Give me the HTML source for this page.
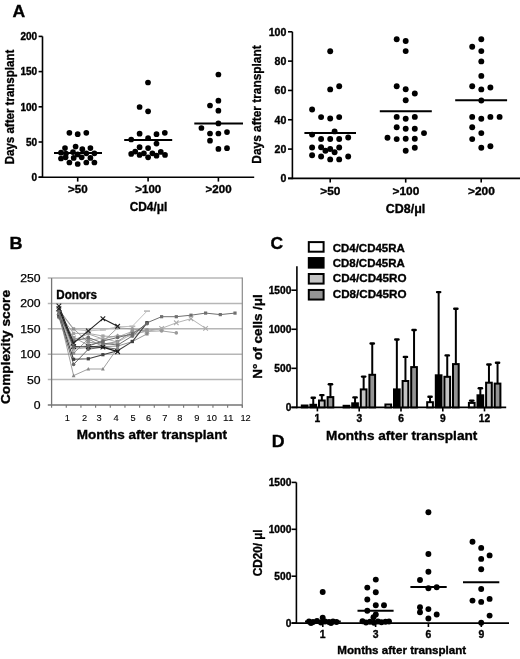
<!DOCTYPE html>
<html><head><meta charset="utf-8"><style>
html,body{margin:0;padding:0;background:#fff;overflow:hidden;}
svg{display:block;will-change:transform;}
text{font-family:"Liberation Sans", sans-serif;fill:#000;}
</style></head><body>
<svg width="520" height="659" viewBox="0 0 520 659">
<rect width="520" height="659" fill="#fff"/>
<text x="12.41" y="16.70" font-size="17.37" font-weight="bold" stroke="#000" stroke-width="0.35" textLength="12.70" lengthAdjust="spacingAndGlyphs">A</text>
<line x1="42.50" y1="36.40" x2="42.50" y2="178.00" stroke="#000" stroke-width="1.6" />
<line x1="38.60" y1="177.20" x2="42.50" y2="177.20" stroke="#000" stroke-width="1.6" />
<text x="31.55" y="180.90" font-size="10.00" font-weight="bold" stroke="#000" stroke-width="0.35" textLength="5.56" lengthAdjust="spacingAndGlyphs">0</text>
<line x1="38.60" y1="142.00" x2="42.50" y2="142.00" stroke="#000" stroke-width="1.6" />
<text x="25.99" y="145.70" font-size="10.00" font-weight="bold" stroke="#000" stroke-width="0.35" textLength="11.12" lengthAdjust="spacingAndGlyphs">50</text>
<line x1="38.60" y1="106.80" x2="42.50" y2="106.80" stroke="#000" stroke-width="1.6" />
<text x="20.43" y="110.50" font-size="10.00" font-weight="bold" stroke="#000" stroke-width="0.35" textLength="16.68" lengthAdjust="spacingAndGlyphs">100</text>
<line x1="38.60" y1="71.60" x2="42.50" y2="71.60" stroke="#000" stroke-width="1.6" />
<text x="20.43" y="75.30" font-size="10.00" font-weight="bold" stroke="#000" stroke-width="0.35" textLength="16.68" lengthAdjust="spacingAndGlyphs">150</text>
<line x1="38.60" y1="36.40" x2="42.50" y2="36.40" stroke="#000" stroke-width="1.6" />
<text x="20.43" y="40.10" font-size="10.00" font-weight="bold" stroke="#000" stroke-width="0.35" textLength="16.68" lengthAdjust="spacingAndGlyphs">200</text>
<line x1="38.60" y1="177.20" x2="254.20" y2="177.20" stroke="#000" stroke-width="1.6" />
<line x1="77.70" y1="177.20" x2="77.70" y2="181.60" stroke="#000" stroke-width="1.6" />
<text x="68.10" y="192.60" font-size="11.10" font-weight="bold" stroke="#000" stroke-width="0.35" textLength="19.58" lengthAdjust="spacingAndGlyphs">&gt;50</text>
<line x1="148.10" y1="177.20" x2="148.10" y2="181.60" stroke="#000" stroke-width="1.6" />
<text x="135.29" y="192.60" font-size="11.10" font-weight="bold" stroke="#000" stroke-width="0.35" textLength="26.00" lengthAdjust="spacingAndGlyphs">&gt;100</text>
<line x1="218.40" y1="177.20" x2="218.40" y2="181.60" stroke="#000" stroke-width="1.6" />
<text x="205.59" y="192.60" font-size="11.10" font-weight="bold" stroke="#000" stroke-width="0.35" textLength="26.00" lengthAdjust="spacingAndGlyphs">&gt;200</text>
<text x="129.66" y="210.80" font-size="12.14" font-weight="bold" stroke="#000" stroke-width="0.35" textLength="37.63" lengthAdjust="spacingAndGlyphs">CD4/μl</text>
<text x="14.20" y="164.32" font-size="12.72" font-weight="bold" stroke="#000" stroke-width="0.35" textLength="114.61" lengthAdjust="spacingAndGlyphs" transform="rotate(-90 14.20 164.32)">Days after transplant</text>
<circle cx="69.40" cy="132.80" r="2.85" fill="#000"/>
<circle cx="77.70" cy="134.20" r="2.85" fill="#000"/>
<circle cx="86.30" cy="132.80" r="2.85" fill="#000"/>
<circle cx="65.00" cy="148.10" r="2.85" fill="#000"/>
<circle cx="75.60" cy="146.60" r="2.85" fill="#000"/>
<circle cx="82.30" cy="149.20" r="2.85" fill="#000"/>
<circle cx="90.40" cy="148.10" r="2.85" fill="#000"/>
<circle cx="61.00" cy="152.70" r="2.85" fill="#000"/>
<circle cx="73.00" cy="152.10" r="2.85" fill="#000"/>
<circle cx="77.70" cy="154.40" r="2.85" fill="#000"/>
<circle cx="86.30" cy="153.30" r="2.85" fill="#000"/>
<circle cx="94.40" cy="153.30" r="2.85" fill="#000"/>
<circle cx="66.00" cy="153.50" r="2.85" fill="#000"/>
<circle cx="61.00" cy="158.50" r="2.85" fill="#000"/>
<circle cx="65.60" cy="157.30" r="2.85" fill="#000"/>
<circle cx="73.70" cy="157.90" r="2.85" fill="#000"/>
<circle cx="81.70" cy="157.30" r="2.85" fill="#000"/>
<circle cx="90.40" cy="157.90" r="2.85" fill="#000"/>
<circle cx="69.40" cy="162.50" r="2.85" fill="#000"/>
<circle cx="77.70" cy="164.00" r="2.85" fill="#000"/>
<circle cx="86.30" cy="162.50" r="2.85" fill="#000"/>
<circle cx="94.40" cy="162.50" r="2.85" fill="#000"/>
<circle cx="148.00" cy="82.50" r="2.85" fill="#000"/>
<circle cx="139.60" cy="107.00" r="2.85" fill="#000"/>
<circle cx="148.10" cy="111.30" r="2.85" fill="#000"/>
<circle cx="139.60" cy="133.70" r="2.85" fill="#000"/>
<circle cx="156.50" cy="134.20" r="2.85" fill="#000"/>
<circle cx="164.80" cy="132.80" r="2.85" fill="#000"/>
<circle cx="131.20" cy="139.50" r="2.85" fill="#000"/>
<circle cx="148.10" cy="138.20" r="2.85" fill="#000"/>
<circle cx="156.50" cy="143.60" r="2.85" fill="#000"/>
<circle cx="139.60" cy="147.20" r="2.85" fill="#000"/>
<circle cx="148.10" cy="148.10" r="2.85" fill="#000"/>
<circle cx="131.20" cy="153.90" r="2.85" fill="#000"/>
<circle cx="135.20" cy="151.60" r="2.85" fill="#000"/>
<circle cx="139.60" cy="154.90" r="2.85" fill="#000"/>
<circle cx="143.90" cy="153.30" r="2.85" fill="#000"/>
<circle cx="148.10" cy="157.30" r="2.85" fill="#000"/>
<circle cx="152.40" cy="153.30" r="2.85" fill="#000"/>
<circle cx="156.50" cy="155.70" r="2.85" fill="#000"/>
<circle cx="160.80" cy="151.90" r="2.85" fill="#000"/>
<circle cx="165.00" cy="154.90" r="2.85" fill="#000"/>
<circle cx="218.40" cy="74.50" r="2.85" fill="#000"/>
<circle cx="218.40" cy="100.70" r="2.85" fill="#000"/>
<circle cx="210.00" cy="105.50" r="2.85" fill="#000"/>
<circle cx="218.40" cy="110.70" r="2.85" fill="#000"/>
<circle cx="218.40" cy="123.40" r="2.85" fill="#000"/>
<circle cx="201.40" cy="128.00" r="2.85" fill="#000"/>
<circle cx="210.00" cy="133.50" r="2.85" fill="#000"/>
<circle cx="218.40" cy="133.50" r="2.85" fill="#000"/>
<circle cx="227.00" cy="132.10" r="2.85" fill="#000"/>
<circle cx="210.00" cy="140.70" r="2.85" fill="#000"/>
<circle cx="218.40" cy="148.90" r="2.85" fill="#000"/>
<circle cx="227.00" cy="148.20" r="2.85" fill="#000"/>
<line x1="54.00" y1="152.90" x2="102.00" y2="152.90" stroke="#000" stroke-width="2" />
<line x1="124.20" y1="140.10" x2="172.20" y2="140.10" stroke="#000" stroke-width="2" />
<line x1="194.30" y1="123.60" x2="243.00" y2="123.60" stroke="#000" stroke-width="2" />
<line x1="292.40" y1="31.80" x2="292.40" y2="179.20" stroke="#000" stroke-width="1.6" />
<line x1="288.00" y1="178.40" x2="292.40" y2="178.40" stroke="#000" stroke-width="1.6" />
<text x="280.44" y="182.20" font-size="10.60" font-weight="bold" stroke="#000" stroke-width="0.35" textLength="5.90" lengthAdjust="spacingAndGlyphs">0</text>
<line x1="288.00" y1="149.08" x2="292.40" y2="149.08" stroke="#000" stroke-width="1.6" />
<text x="274.54" y="152.88" font-size="10.60" font-weight="bold" stroke="#000" stroke-width="0.35" textLength="11.79" lengthAdjust="spacingAndGlyphs">20</text>
<line x1="288.00" y1="119.76" x2="292.40" y2="119.76" stroke="#000" stroke-width="1.6" />
<text x="274.54" y="123.56" font-size="10.60" font-weight="bold" stroke="#000" stroke-width="0.35" textLength="11.79" lengthAdjust="spacingAndGlyphs">40</text>
<line x1="288.00" y1="90.44" x2="292.40" y2="90.44" stroke="#000" stroke-width="1.6" />
<text x="274.54" y="94.24" font-size="10.60" font-weight="bold" stroke="#000" stroke-width="0.35" textLength="11.79" lengthAdjust="spacingAndGlyphs">60</text>
<line x1="288.00" y1="61.12" x2="292.40" y2="61.12" stroke="#000" stroke-width="1.6" />
<text x="274.54" y="64.92" font-size="10.60" font-weight="bold" stroke="#000" stroke-width="0.35" textLength="11.79" lengthAdjust="spacingAndGlyphs">80</text>
<line x1="288.00" y1="31.80" x2="292.40" y2="31.80" stroke="#000" stroke-width="1.6" />
<text x="268.65" y="35.60" font-size="10.60" font-weight="bold" stroke="#000" stroke-width="0.35" textLength="17.69" lengthAdjust="spacingAndGlyphs">100</text>
<line x1="288.00" y1="178.40" x2="520.00" y2="178.40" stroke="#000" stroke-width="1.6" />
<line x1="330.20" y1="178.40" x2="330.20" y2="182.60" stroke="#000" stroke-width="1.6" />
<text x="320.32" y="194.60" font-size="11.00" font-weight="bold" stroke="#000" stroke-width="0.35" textLength="20.15" lengthAdjust="spacingAndGlyphs">&gt;50</text>
<line x1="405.70" y1="178.40" x2="405.70" y2="182.60" stroke="#000" stroke-width="1.6" />
<text x="392.51" y="194.60" font-size="11.00" font-weight="bold" stroke="#000" stroke-width="0.35" textLength="26.76" lengthAdjust="spacingAndGlyphs">&gt;100</text>
<line x1="481.20" y1="178.40" x2="481.20" y2="182.60" stroke="#000" stroke-width="1.6" />
<text x="468.01" y="194.60" font-size="11.00" font-weight="bold" stroke="#000" stroke-width="0.35" textLength="26.76" lengthAdjust="spacingAndGlyphs">&gt;200</text>
<text x="385.84" y="213.10" font-size="12.14" font-weight="bold" stroke="#000" stroke-width="0.35" textLength="39.49" lengthAdjust="spacingAndGlyphs">CD8/μl</text>
<text x="261.30" y="163.65" font-size="13.30" font-weight="bold" stroke="#000" stroke-width="0.35" textLength="118.34" lengthAdjust="spacingAndGlyphs" transform="rotate(-90 261.30 163.65)">Days after transplant</text>
<circle cx="330.20" cy="51.20" r="2.95" fill="#000"/>
<circle cx="339.20" cy="86.20" r="2.95" fill="#000"/>
<circle cx="330.20" cy="89.40" r="2.95" fill="#000"/>
<circle cx="312.10" cy="109.50" r="2.95" fill="#000"/>
<circle cx="321.10" cy="117.10" r="2.95" fill="#000"/>
<circle cx="330.20" cy="118.50" r="2.95" fill="#000"/>
<circle cx="339.20" cy="117.10" r="2.95" fill="#000"/>
<circle cx="334.60" cy="131.40" r="2.95" fill="#000"/>
<circle cx="312.10" cy="134.60" r="2.95" fill="#000"/>
<circle cx="321.10" cy="139.00" r="2.95" fill="#000"/>
<circle cx="330.20" cy="139.00" r="2.95" fill="#000"/>
<circle cx="339.20" cy="139.00" r="2.95" fill="#000"/>
<circle cx="348.20" cy="137.50" r="2.95" fill="#000"/>
<circle cx="312.10" cy="147.50" r="2.95" fill="#000"/>
<circle cx="321.10" cy="147.30" r="2.95" fill="#000"/>
<circle cx="325.40" cy="150.80" r="2.95" fill="#000"/>
<circle cx="330.20" cy="149.00" r="2.95" fill="#000"/>
<circle cx="334.60" cy="152.20" r="2.95" fill="#000"/>
<circle cx="339.20" cy="147.50" r="2.95" fill="#000"/>
<circle cx="312.10" cy="155.20" r="2.95" fill="#000"/>
<circle cx="321.10" cy="156.50" r="2.95" fill="#000"/>
<circle cx="330.20" cy="159.40" r="2.95" fill="#000"/>
<circle cx="339.20" cy="159.40" r="2.95" fill="#000"/>
<circle cx="348.20" cy="156.50" r="2.95" fill="#000"/>
<circle cx="396.70" cy="39.20" r="2.95" fill="#000"/>
<circle cx="405.70" cy="41.00" r="2.95" fill="#000"/>
<circle cx="405.70" cy="51.10" r="2.95" fill="#000"/>
<circle cx="396.70" cy="86.20" r="2.95" fill="#000"/>
<circle cx="405.70" cy="89.20" r="2.95" fill="#000"/>
<circle cx="414.80" cy="93.50" r="2.95" fill="#000"/>
<circle cx="405.70" cy="100.20" r="2.95" fill="#000"/>
<circle cx="396.70" cy="116.90" r="2.95" fill="#000"/>
<circle cx="405.70" cy="118.70" r="2.95" fill="#000"/>
<circle cx="414.80" cy="116.90" r="2.95" fill="#000"/>
<circle cx="396.70" cy="127.30" r="2.95" fill="#000"/>
<circle cx="405.70" cy="128.80" r="2.95" fill="#000"/>
<circle cx="414.80" cy="128.80" r="2.95" fill="#000"/>
<circle cx="424.00" cy="133.10" r="2.95" fill="#000"/>
<circle cx="387.50" cy="137.70" r="2.95" fill="#000"/>
<circle cx="396.70" cy="139.10" r="2.95" fill="#000"/>
<circle cx="405.70" cy="138.80" r="2.95" fill="#000"/>
<circle cx="414.80" cy="138.80" r="2.95" fill="#000"/>
<circle cx="414.80" cy="147.80" r="2.95" fill="#000"/>
<circle cx="405.70" cy="150.70" r="2.95" fill="#000"/>
<circle cx="481.30" cy="39.20" r="2.95" fill="#000"/>
<circle cx="472.20" cy="46.70" r="2.95" fill="#000"/>
<circle cx="481.30" cy="51.10" r="2.95" fill="#000"/>
<circle cx="481.30" cy="61.40" r="2.95" fill="#000"/>
<circle cx="481.30" cy="75.90" r="2.95" fill="#000"/>
<circle cx="472.20" cy="86.30" r="2.95" fill="#000"/>
<circle cx="481.30" cy="89.40" r="2.95" fill="#000"/>
<circle cx="490.40" cy="87.50" r="2.95" fill="#000"/>
<circle cx="481.30" cy="100.50" r="2.95" fill="#000"/>
<circle cx="472.20" cy="116.90" r="2.95" fill="#000"/>
<circle cx="481.30" cy="118.70" r="2.95" fill="#000"/>
<circle cx="490.40" cy="116.90" r="2.95" fill="#000"/>
<circle cx="499.60" cy="116.90" r="2.95" fill="#000"/>
<circle cx="472.20" cy="127.30" r="2.95" fill="#000"/>
<circle cx="481.30" cy="133.10" r="2.95" fill="#000"/>
<circle cx="472.20" cy="139.10" r="2.95" fill="#000"/>
<circle cx="481.30" cy="147.80" r="2.95" fill="#000"/>
<circle cx="490.40" cy="146.30" r="2.95" fill="#000"/>
<line x1="304.40" y1="132.90" x2="356.00" y2="132.90" stroke="#000" stroke-width="2" />
<line x1="379.80" y1="111.20" x2="431.80" y2="111.20" stroke="#000" stroke-width="2" />
<line x1="455.20" y1="100.20" x2="507.10" y2="100.20" stroke="#000" stroke-width="2" />
<text x="9.44" y="248.80" font-size="16.06" font-weight="bold" stroke="#000" stroke-width="0.35" textLength="13.03" lengthAdjust="spacingAndGlyphs">B</text>
<line x1="47.80" y1="379.62" x2="242.30" y2="379.62" stroke="#b6b6b6" stroke-width="1.5" />
<line x1="47.80" y1="354.24" x2="242.30" y2="354.24" stroke="#b6b6b6" stroke-width="1.5" />
<line x1="47.80" y1="328.86" x2="242.30" y2="328.86" stroke="#b6b6b6" stroke-width="1.5" />
<line x1="47.80" y1="303.48" x2="242.30" y2="303.48" stroke="#b6b6b6" stroke-width="1.5" />
<line x1="47.80" y1="278.10" x2="242.30" y2="278.10" stroke="#b6b6b6" stroke-width="1.5" />
<polyline points="58.9,311.1 73.6,329.4 88.3,330.9 102.9,329.9 117.6,326.8 132.3,326.3 147.0,311.1" fill="none" stroke="#b8b8b8" stroke-width="0.9" stroke-linejoin="round"/>
<rect x="55.9" y="310.3" width="6" height="1.6" fill="#b8b8b8"/>
<rect x="70.6" y="328.6" width="6" height="1.6" fill="#b8b8b8"/>
<rect x="85.3" y="330.1" width="6" height="1.6" fill="#b8b8b8"/>
<rect x="99.9" y="329.1" width="6" height="1.6" fill="#b8b8b8"/>
<rect x="114.6" y="326.0" width="6" height="1.6" fill="#b8b8b8"/>
<rect x="129.3" y="325.5" width="6" height="1.6" fill="#b8b8b8"/>
<rect x="144.0" y="310.3" width="6" height="1.6" fill="#b8b8b8"/>
<polyline points="58.9,313.6 73.6,333.4 88.3,333.4 102.9,336.0 117.6,337.0 132.3,331.4" fill="none" stroke="#a4a4a4" stroke-width="0.9" stroke-linejoin="round"/>
<rect x="57.3" y="312.0" width="3.2" height="3.2" fill="#a4a4a4"/>
<rect x="72.0" y="331.8" width="3.2" height="3.2" fill="#a4a4a4"/>
<rect x="86.7" y="331.8" width="3.2" height="3.2" fill="#a4a4a4"/>
<rect x="101.3" y="334.4" width="3.2" height="3.2" fill="#a4a4a4"/>
<rect x="116.0" y="335.4" width="3.2" height="3.2" fill="#a4a4a4"/>
<rect x="130.7" y="329.8" width="3.2" height="3.2" fill="#a4a4a4"/>
<polyline points="58.9,315.7 73.6,340.0 88.3,333.9 102.9,339.0 117.6,335.5 132.3,336.0 147.0,329.9 161.6,328.9" fill="none" stroke="#9c9c9c" stroke-width="0.9" stroke-linejoin="round"/>
<polygon points="58.9,313.7 60.9,315.7 58.9,317.7 56.9,315.7" fill="#9c9c9c"/>
<polygon points="73.6,338.0 75.6,340.0 73.6,342.0 71.6,340.0" fill="#9c9c9c"/>
<polygon points="88.3,331.9 90.3,333.9 88.3,335.9 86.3,333.9" fill="#9c9c9c"/>
<polygon points="102.9,337.0 104.9,339.0 102.9,341.0 100.9,339.0" fill="#9c9c9c"/>
<polygon points="117.6,333.5 119.6,335.5 117.6,337.5 115.6,335.5" fill="#9c9c9c"/>
<polygon points="132.3,334.0 134.3,336.0 132.3,338.0 130.3,336.0" fill="#9c9c9c"/>
<polygon points="147.0,327.9 149.0,329.9 147.0,331.9 145.0,329.9" fill="#9c9c9c"/>
<polygon points="161.6,326.9 163.6,328.9 161.6,330.9 159.6,328.9" fill="#9c9c9c"/>
<polyline points="58.9,312.6 73.6,338.0 88.3,340.5 102.9,338.0 117.6,342.1 132.3,333.9 147.0,331.4 161.6,328.4 176.3,322.8 191.0,318.7 205.6,328.4" fill="none" stroke="#acacac" stroke-width="0.9" stroke-linejoin="round"/>
<path d="M56.6,310.3L61.2,314.9M56.6,314.9L61.2,310.3" stroke="#acacac" stroke-width="1.1" fill="none"/>
<path d="M71.3,335.7L75.9,340.3M71.3,340.3L75.9,335.7" stroke="#acacac" stroke-width="1.1" fill="none"/>
<path d="M86.0,338.2L90.6,342.8M86.0,342.8L90.6,338.2" stroke="#acacac" stroke-width="1.1" fill="none"/>
<path d="M100.6,335.7L105.2,340.3M100.6,340.3L105.2,335.7" stroke="#acacac" stroke-width="1.1" fill="none"/>
<path d="M115.3,339.8L119.9,344.4M115.3,344.4L119.9,339.8" stroke="#acacac" stroke-width="1.1" fill="none"/>
<path d="M130.0,331.6L134.6,336.2M130.0,336.2L134.6,331.6" stroke="#acacac" stroke-width="1.1" fill="none"/>
<path d="M144.7,329.1L149.3,333.7M144.7,333.7L149.3,329.1" stroke="#acacac" stroke-width="1.1" fill="none"/>
<path d="M159.3,326.1L163.9,330.7M159.3,330.7L163.9,326.1" stroke="#acacac" stroke-width="1.1" fill="none"/>
<path d="M174.0,320.5L178.6,325.1M174.0,325.1L178.6,320.5" stroke="#acacac" stroke-width="1.1" fill="none"/>
<path d="M188.7,316.4L193.3,321.0M188.7,321.0L193.3,316.4" stroke="#acacac" stroke-width="1.1" fill="none"/>
<path d="M203.3,326.1L207.9,330.7M203.3,330.7L207.9,326.1" stroke="#acacac" stroke-width="1.1" fill="none"/>
<polyline points="58.9,309.6 73.6,328.9 88.3,342.1 102.9,344.1 117.6,341.6 132.3,331.4 147.0,329.9" fill="none" stroke="#909090" stroke-width="0.9" stroke-linejoin="round"/>
<rect x="57.3" y="308.0" width="3.2" height="3.2" fill="#909090"/>
<rect x="72.0" y="327.3" width="3.2" height="3.2" fill="#909090"/>
<rect x="86.7" y="340.5" width="3.2" height="3.2" fill="#909090"/>
<rect x="101.3" y="342.5" width="3.2" height="3.2" fill="#909090"/>
<rect x="116.0" y="339.9" width="3.2" height="3.2" fill="#909090"/>
<rect x="130.7" y="329.8" width="3.2" height="3.2" fill="#909090"/>
<rect x="145.4" y="328.3" width="3.2" height="3.2" fill="#909090"/>
<polyline points="58.9,317.7 73.6,337.5 88.3,345.1 102.9,341.6 117.6,327.8 132.3,328.9 147.0,331.4 161.6,330.9 176.3,332.9" fill="none" stroke="#999999" stroke-width="0.9" stroke-linejoin="round"/>
<circle cx="58.9" cy="317.7" r="1.8" fill="#999999"/>
<circle cx="73.6" cy="337.5" r="1.8" fill="#999999"/>
<circle cx="88.3" cy="345.1" r="1.8" fill="#999999"/>
<circle cx="102.9" cy="341.6" r="1.8" fill="#999999"/>
<circle cx="117.6" cy="327.8" r="1.8" fill="#999999"/>
<circle cx="132.3" cy="328.9" r="1.8" fill="#999999"/>
<circle cx="147.0" cy="331.4" r="1.8" fill="#999999"/>
<circle cx="161.6" cy="330.9" r="1.8" fill="#999999"/>
<circle cx="176.3" cy="332.9" r="1.8" fill="#999999"/>
<polyline points="58.9,314.6 73.6,349.2 88.3,347.6 102.9,345.1 117.6,342.6" fill="none" stroke="#a0a0a0" stroke-width="0.9" stroke-linejoin="round"/>
<polygon points="58.9,312.6 60.8,316.2 57.0,316.2" fill="#a0a0a0"/>
<polygon points="73.6,347.2 75.5,350.8 71.7,350.8" fill="#a0a0a0"/>
<polygon points="88.3,345.6 90.2,349.2 86.4,349.2" fill="#a0a0a0"/>
<polygon points="102.9,343.1 104.8,346.7 101.0,346.7" fill="#a0a0a0"/>
<polygon points="117.6,340.6 119.5,344.2 115.7,344.2" fill="#a0a0a0"/>
<polyline points="58.9,316.2 73.6,353.2 88.3,339.0 102.9,346.6 117.6,346.1 132.3,341.6 147.0,333.9" fill="none" stroke="#888888" stroke-width="0.9" stroke-linejoin="round"/>
<rect x="57.3" y="314.6" width="3.2" height="3.2" fill="#888888"/>
<rect x="72.0" y="351.6" width="3.2" height="3.2" fill="#888888"/>
<rect x="86.7" y="337.4" width="3.2" height="3.2" fill="#888888"/>
<rect x="101.3" y="345.0" width="3.2" height="3.2" fill="#888888"/>
<rect x="116.0" y="344.5" width="3.2" height="3.2" fill="#888888"/>
<rect x="130.7" y="339.9" width="3.2" height="3.2" fill="#888888"/>
<rect x="145.4" y="332.3" width="3.2" height="3.2" fill="#888888"/>
<polyline points="58.9,315.7 73.6,341.0 88.3,337.5 102.9,343.1 117.6,345.1 132.3,336.0 147.0,322.8 161.6,316.7 176.3,316.7 191.0,315.2 205.6,313.1 220.3,314.6 235.0,313.1" fill="none" stroke="#707070" stroke-width="1.0" stroke-linejoin="round"/>
<rect x="57.3" y="314.1" width="3.2" height="3.2" fill="#707070"/>
<rect x="72.0" y="339.4" width="3.2" height="3.2" fill="#707070"/>
<rect x="86.7" y="335.9" width="3.2" height="3.2" fill="#707070"/>
<rect x="101.3" y="341.5" width="3.2" height="3.2" fill="#707070"/>
<rect x="116.0" y="343.5" width="3.2" height="3.2" fill="#707070"/>
<rect x="130.7" y="334.4" width="3.2" height="3.2" fill="#707070"/>
<rect x="145.4" y="321.2" width="3.2" height="3.2" fill="#707070"/>
<rect x="160.0" y="315.1" width="3.2" height="3.2" fill="#707070"/>
<rect x="174.7" y="315.1" width="3.2" height="3.2" fill="#707070"/>
<rect x="189.4" y="313.6" width="3.2" height="3.2" fill="#707070"/>
<rect x="204.0" y="311.5" width="3.2" height="3.2" fill="#707070"/>
<rect x="218.7" y="313.0" width="3.2" height="3.2" fill="#707070"/>
<rect x="233.4" y="311.5" width="3.2" height="3.2" fill="#707070"/>
<polyline points="58.9,316.7 73.6,364.4 88.3,349.2 102.9,347.1 117.6,349.2" fill="none" stroke="#666666" stroke-width="1.0" stroke-linejoin="round"/>
<circle cx="58.9" cy="316.7" r="1.8" fill="#666666"/>
<circle cx="73.6" cy="364.4" r="1.8" fill="#666666"/>
<circle cx="88.3" cy="349.2" r="1.8" fill="#666666"/>
<circle cx="102.9" cy="347.1" r="1.8" fill="#666666"/>
<circle cx="117.6" cy="349.2" r="1.8" fill="#666666"/>
<polyline points="58.9,314.6 73.6,359.3 88.3,358.8 102.9,354.7 117.6,350.7 132.3,341.6 147.0,322.8" fill="none" stroke="#404040" stroke-width="1.1" stroke-linejoin="round"/>
<rect x="57.3" y="313.0" width="3.2" height="3.2" fill="#404040"/>
<rect x="72.0" y="357.7" width="3.2" height="3.2" fill="#404040"/>
<rect x="86.7" y="357.2" width="3.2" height="3.2" fill="#404040"/>
<rect x="101.3" y="353.1" width="3.2" height="3.2" fill="#404040"/>
<rect x="116.0" y="349.1" width="3.2" height="3.2" fill="#404040"/>
<rect x="130.7" y="339.9" width="3.2" height="3.2" fill="#404040"/>
<rect x="145.4" y="321.2" width="3.2" height="3.2" fill="#404040"/>
<polyline points="58.9,313.1 73.6,375.6 88.3,369.0 102.9,369.0 117.6,348.1" fill="none" stroke="#888888" stroke-width="0.8" stroke-linejoin="round"/>
<polygon points="58.9,311.1 60.8,314.7 57.0,314.7" fill="#888888"/>
<polygon points="73.6,373.6 75.5,377.2 71.7,377.2" fill="#888888"/>
<polygon points="88.3,367.0 90.2,370.6 86.4,370.6" fill="#888888"/>
<polygon points="102.9,367.0 104.8,370.6 101.0,370.6" fill="#888888"/>
<polygon points="117.6,346.1 119.5,349.7 115.7,349.7" fill="#888888"/>
<polyline points="58.9,308.6 73.6,346.6 88.3,346.6 102.9,347.1 117.6,351.7" fill="none" stroke="#1a1a1a" stroke-width="1.4" stroke-linejoin="round"/>
<path d="M56.6,306.3L61.2,310.9M56.6,310.9L61.2,306.3" stroke="#1a1a1a" stroke-width="1.1" fill="none"/>
<path d="M71.3,344.3L75.9,348.9M71.3,348.9L75.9,344.3" stroke="#1a1a1a" stroke-width="1.1" fill="none"/>
<path d="M86.0,344.3L90.6,348.9M86.0,348.9L90.6,344.3" stroke="#1a1a1a" stroke-width="1.1" fill="none"/>
<path d="M100.6,344.8L105.2,349.4M100.6,349.4L105.2,344.8" stroke="#1a1a1a" stroke-width="1.1" fill="none"/>
<path d="M115.3,349.4L119.9,354.0M115.3,354.0L119.9,349.4" stroke="#1a1a1a" stroke-width="1.1" fill="none"/>
<polyline points="58.9,306.0 73.6,343.1 88.3,330.9 102.9,318.7 117.6,326.3" fill="none" stroke="#222222" stroke-width="1.1" stroke-linejoin="round"/>
<path d="M56.6,303.7L61.2,308.3M56.6,308.3L61.2,303.7" stroke="#222222" stroke-width="1.1" fill="none"/>
<path d="M71.3,340.8L75.9,345.4M71.3,345.4L75.9,340.8" stroke="#222222" stroke-width="1.1" fill="none"/>
<path d="M86.0,328.6L90.6,333.2M86.0,333.2L90.6,328.6" stroke="#222222" stroke-width="1.1" fill="none"/>
<path d="M100.6,316.4L105.2,321.0M100.6,321.0L105.2,316.4" stroke="#222222" stroke-width="1.1" fill="none"/>
<path d="M115.3,324.0L119.9,328.6M115.3,328.6L119.9,324.0" stroke="#222222" stroke-width="1.1" fill="none"/>
<polyline points="58.9,311.6 73.6,347.1 88.3,346.1 102.9,341.0 117.6,337.5 132.3,333.9 147.0,323.8" fill="none" stroke="#6a6a6a" stroke-width="1.0" stroke-linejoin="round"/>
<circle cx="58.9" cy="311.6" r="1.8" fill="#6a6a6a"/>
<circle cx="73.6" cy="347.1" r="1.8" fill="#6a6a6a"/>
<circle cx="88.3" cy="346.1" r="1.8" fill="#6a6a6a"/>
<circle cx="102.9" cy="341.0" r="1.8" fill="#6a6a6a"/>
<circle cx="117.6" cy="337.5" r="1.8" fill="#6a6a6a"/>
<circle cx="132.3" cy="333.9" r="1.8" fill="#6a6a6a"/>
<circle cx="147.0" cy="323.8" r="1.8" fill="#6a6a6a"/>
<line x1="51.60" y1="278.10" x2="51.60" y2="405.00" stroke="#757575" stroke-width="1.3" />
<line x1="242.30" y1="277.40" x2="242.30" y2="407.80" stroke="#8a8a8a" stroke-width="1.2" />
<line x1="47.80" y1="405.00" x2="242.30" y2="405.00" stroke="#757575" stroke-width="1.5" />
<line x1="51.60" y1="405.00" x2="51.60" y2="407.80" stroke="#757575" stroke-width="1.1" />
<line x1="66.27" y1="405.00" x2="66.27" y2="407.80" stroke="#757575" stroke-width="1.1" />
<line x1="80.94" y1="405.00" x2="80.94" y2="407.80" stroke="#757575" stroke-width="1.1" />
<line x1="95.61" y1="405.00" x2="95.61" y2="407.80" stroke="#757575" stroke-width="1.1" />
<line x1="110.28" y1="405.00" x2="110.28" y2="407.80" stroke="#757575" stroke-width="1.1" />
<line x1="124.95" y1="405.00" x2="124.95" y2="407.80" stroke="#757575" stroke-width="1.1" />
<line x1="139.62" y1="405.00" x2="139.62" y2="407.80" stroke="#757575" stroke-width="1.1" />
<line x1="154.28" y1="405.00" x2="154.28" y2="407.80" stroke="#757575" stroke-width="1.1" />
<line x1="168.95" y1="405.00" x2="168.95" y2="407.80" stroke="#757575" stroke-width="1.1" />
<line x1="183.62" y1="405.00" x2="183.62" y2="407.80" stroke="#757575" stroke-width="1.1" />
<line x1="198.29" y1="405.00" x2="198.29" y2="407.80" stroke="#757575" stroke-width="1.1" />
<line x1="212.96" y1="405.00" x2="212.96" y2="407.80" stroke="#757575" stroke-width="1.1" />
<line x1="227.63" y1="405.00" x2="227.63" y2="407.80" stroke="#757575" stroke-width="1.1" />
<line x1="242.30" y1="405.00" x2="242.30" y2="407.80" stroke="#757575" stroke-width="1.1" />
<text x="33.79" y="408.90" font-size="11.10" font-weight="normal" stroke="#000" stroke-width="0.25" textLength="6.79" lengthAdjust="spacingAndGlyphs">0</text>
<text x="27.00" y="383.52" font-size="11.10" font-weight="normal" stroke="#000" stroke-width="0.25" textLength="13.58" lengthAdjust="spacingAndGlyphs">50</text>
<text x="20.21" y="358.14" font-size="11.10" font-weight="normal" stroke="#000" stroke-width="0.25" textLength="20.37" lengthAdjust="spacingAndGlyphs">100</text>
<text x="20.21" y="332.76" font-size="11.10" font-weight="normal" stroke="#000" stroke-width="0.25" textLength="20.37" lengthAdjust="spacingAndGlyphs">150</text>
<text x="20.21" y="307.38" font-size="11.10" font-weight="normal" stroke="#000" stroke-width="0.25" textLength="20.37" lengthAdjust="spacingAndGlyphs">200</text>
<text x="20.21" y="282.00" font-size="11.10" font-weight="normal" stroke="#000" stroke-width="0.25" textLength="20.37" lengthAdjust="spacingAndGlyphs">250</text>
<text x="64.89" y="420.90" font-size="8.30" font-weight="normal" stroke="#000" stroke-width="0.1" textLength="5.17" lengthAdjust="spacingAndGlyphs">1</text>
<text x="82.02" y="420.90" font-size="8.30" font-weight="normal" stroke="#000" stroke-width="0.1" textLength="5.17" lengthAdjust="spacingAndGlyphs">2</text>
<text x="96.54" y="420.90" font-size="8.30" font-weight="normal" stroke="#000" stroke-width="0.1" textLength="5.17" lengthAdjust="spacingAndGlyphs">3</text>
<text x="113.44" y="420.90" font-size="8.30" font-weight="normal" stroke="#000" stroke-width="0.1" textLength="5.17" lengthAdjust="spacingAndGlyphs">4</text>
<text x="130.42" y="420.90" font-size="8.30" font-weight="normal" stroke="#000" stroke-width="0.1" textLength="5.17" lengthAdjust="spacingAndGlyphs">5</text>
<text x="145.98" y="420.90" font-size="8.30" font-weight="normal" stroke="#000" stroke-width="0.1" textLength="5.17" lengthAdjust="spacingAndGlyphs">6</text>
<text x="162.21" y="420.90" font-size="8.30" font-weight="normal" stroke="#000" stroke-width="0.1" textLength="5.17" lengthAdjust="spacingAndGlyphs">7</text>
<text x="177.22" y="420.90" font-size="8.30" font-weight="normal" stroke="#000" stroke-width="0.1" textLength="5.17" lengthAdjust="spacingAndGlyphs">8</text>
<text x="194.32" y="420.90" font-size="8.30" font-weight="normal" stroke="#000" stroke-width="0.1" textLength="5.17" lengthAdjust="spacingAndGlyphs">9</text>
<text x="206.56" y="420.90" font-size="8.30" font-weight="normal" stroke="#000" stroke-width="0.1" textLength="10.34" lengthAdjust="spacingAndGlyphs">10</text>
<text x="223.10" y="420.90" font-size="8.30" font-weight="normal" stroke="#000" stroke-width="0.1" textLength="10.34" lengthAdjust="spacingAndGlyphs">11</text>
<text x="240.41" y="420.90" font-size="8.30" font-weight="normal" stroke="#000" stroke-width="0.1" textLength="10.34" lengthAdjust="spacingAndGlyphs">12</text>
<text x="76.65" y="439.20" font-size="13.15" font-weight="bold" stroke="#000" stroke-width="0.35" textLength="150.27" lengthAdjust="spacingAndGlyphs">Months after transplant</text>
<text x="10.10" y="404.11" font-size="13.60" font-weight="bold" stroke="#000" stroke-width="0.35" textLength="114.13" lengthAdjust="spacingAndGlyphs" transform="rotate(-90 10.10 404.11)">Complexity score</text>
<text x="56.27" y="299.20" font-size="11.99" font-weight="bold" stroke="#000" stroke-width="0.35" textLength="40.76" lengthAdjust="spacingAndGlyphs">Donors</text>
<text x="270.53" y="249.30" font-size="16.06" font-weight="bold" stroke="#000" stroke-width="0.35" textLength="12.59" lengthAdjust="spacingAndGlyphs">C</text>
<line x1="296.90" y1="266.20" x2="296.90" y2="408.20" stroke="#000" stroke-width="1.6" />
<line x1="291.40" y1="407.40" x2="296.90" y2="407.40" stroke="#000" stroke-width="1.6" />
<text x="285.65" y="410.80" font-size="10.20" font-weight="bold" stroke="#000" stroke-width="0.35" textLength="5.67" lengthAdjust="spacingAndGlyphs">0</text>
<line x1="291.40" y1="368.33" x2="296.90" y2="368.33" stroke="#000" stroke-width="1.6" />
<text x="274.30" y="371.73" font-size="10.20" font-weight="bold" stroke="#000" stroke-width="0.35" textLength="17.02" lengthAdjust="spacingAndGlyphs">500</text>
<line x1="291.40" y1="329.27" x2="296.90" y2="329.27" stroke="#000" stroke-width="1.6" />
<text x="268.63" y="332.67" font-size="10.20" font-weight="bold" stroke="#000" stroke-width="0.35" textLength="22.69" lengthAdjust="spacingAndGlyphs">1000</text>
<line x1="291.40" y1="290.20" x2="296.90" y2="290.20" stroke="#000" stroke-width="1.6" />
<text x="268.63" y="293.60" font-size="10.20" font-weight="bold" stroke="#000" stroke-width="0.35" textLength="22.69" lengthAdjust="spacingAndGlyphs">1500</text>
<line x1="291.40" y1="407.40" x2="506.20" y2="407.40" stroke="#000" stroke-width="1.6" />
<line x1="317.40" y1="407.40" x2="317.40" y2="411.40" stroke="#000" stroke-width="1.6" />
<text x="314.48" y="421.50" font-size="10.20" font-weight="bold" stroke="#000" stroke-width="0.35" textLength="5.67" lengthAdjust="spacingAndGlyphs">1</text>
<line x1="359.20" y1="407.40" x2="359.20" y2="411.40" stroke="#000" stroke-width="1.6" />
<text x="356.53" y="421.50" font-size="10.20" font-weight="bold" stroke="#000" stroke-width="0.35" textLength="5.67" lengthAdjust="spacingAndGlyphs">3</text>
<line x1="401.00" y1="407.40" x2="401.00" y2="411.40" stroke="#000" stroke-width="1.6" />
<text x="398.26" y="421.50" font-size="10.20" font-weight="bold" stroke="#000" stroke-width="0.35" textLength="5.67" lengthAdjust="spacingAndGlyphs">6</text>
<line x1="442.80" y1="407.40" x2="442.80" y2="411.40" stroke="#000" stroke-width="1.6" />
<text x="440.08" y="421.50" font-size="10.20" font-weight="bold" stroke="#000" stroke-width="0.35" textLength="5.67" lengthAdjust="spacingAndGlyphs">9</text>
<line x1="484.50" y1="407.40" x2="484.50" y2="411.40" stroke="#000" stroke-width="1.6" />
<text x="478.81" y="421.50" font-size="10.20" font-weight="bold" stroke="#000" stroke-width="0.35" textLength="11.35" lengthAdjust="spacingAndGlyphs">12</text>
<text x="326.14" y="439.60" font-size="13.15" font-weight="bold" stroke="#000" stroke-width="0.35" textLength="151.18" lengthAdjust="spacingAndGlyphs">Months after transplant</text>
<text x="261.70" y="378.75" font-size="13.59" font-weight="bold" stroke="#000" stroke-width="0.35" textLength="84.55" lengthAdjust="spacingAndGlyphs" transform="rotate(-90 261.70 378.75)">N° of cells /μl</text>
<rect x="308.80" y="242.10" width="14.80" height="9.60" fill="#ffffff" stroke="#000" stroke-width="2.0"/>
<text x="332.78" y="251.50" font-size="10.97" font-weight="bold" stroke="#000" stroke-width="0.35" textLength="71.97" lengthAdjust="spacingAndGlyphs">CD4/CD45RA</text>
<rect x="308.80" y="258.05" width="14.80" height="9.60" fill="#000000" stroke="#000" stroke-width="2.0"/>
<text x="332.78" y="266.90" font-size="10.97" font-weight="bold" stroke="#000" stroke-width="0.35" textLength="71.97" lengthAdjust="spacingAndGlyphs">CD8/CD45RA</text>
<rect x="308.80" y="274.00" width="14.80" height="9.60" fill="#c4c4c4" stroke="#000" stroke-width="2.0"/>
<text x="332.77" y="282.30" font-size="10.97" font-weight="bold" stroke="#000" stroke-width="0.35" textLength="73.77" lengthAdjust="spacingAndGlyphs">CD4/CD45RO</text>
<rect x="308.80" y="289.95" width="14.80" height="9.60" fill="#939393" stroke="#000" stroke-width="2.0"/>
<text x="332.77" y="297.70" font-size="10.97" font-weight="bold" stroke="#000" stroke-width="0.35" textLength="73.77" lengthAdjust="spacingAndGlyphs">CD8/CD45RO</text>
<rect x="301.80" y="405.50" width="5.70" height="1.90" fill="#ffffff" stroke="#000" stroke-width="2.0"/>
<line x1="313.25" y1="397.70" x2="313.25" y2="404.60" stroke="#000" stroke-width="2.0" />
<line x1="311.65" y1="397.70" x2="314.85" y2="397.70" stroke="#000" stroke-width="2.4" stroke-linecap="round"/>
<rect x="310.40" y="404.80" width="5.70" height="2.60" fill="#000000" stroke="#000" stroke-width="2.0"/>
<line x1="321.85" y1="395.10" x2="321.85" y2="400.30" stroke="#000" stroke-width="2.0" />
<line x1="320.25" y1="395.10" x2="323.45" y2="395.10" stroke="#000" stroke-width="2.4" stroke-linecap="round"/>
<rect x="319.00" y="400.50" width="5.70" height="6.90" fill="#c4c4c4" stroke="#000" stroke-width="2.0"/>
<line x1="330.45" y1="384.30" x2="330.45" y2="396.90" stroke="#000" stroke-width="2.0" />
<line x1="328.85" y1="384.30" x2="332.05" y2="384.30" stroke="#000" stroke-width="2.4" stroke-linecap="round"/>
<rect x="327.60" y="397.10" width="5.70" height="10.30" fill="#939393" stroke="#000" stroke-width="2.0"/>
<rect x="343.60" y="405.80" width="5.70" height="1.60" fill="#ffffff" stroke="#000" stroke-width="2.0"/>
<line x1="355.05" y1="397.40" x2="355.05" y2="403.10" stroke="#000" stroke-width="2.0" />
<line x1="353.45" y1="397.40" x2="356.65" y2="397.40" stroke="#000" stroke-width="2.4" stroke-linecap="round"/>
<rect x="352.20" y="403.30" width="5.70" height="4.10" fill="#000000" stroke="#000" stroke-width="2.0"/>
<line x1="363.65" y1="376.60" x2="363.65" y2="389.20" stroke="#000" stroke-width="2.0" />
<line x1="362.05" y1="376.60" x2="365.25" y2="376.60" stroke="#000" stroke-width="2.4" stroke-linecap="round"/>
<rect x="360.80" y="389.40" width="5.70" height="18.00" fill="#c4c4c4" stroke="#000" stroke-width="2.0"/>
<line x1="372.25" y1="343.50" x2="372.25" y2="374.60" stroke="#000" stroke-width="2.0" />
<line x1="370.65" y1="343.50" x2="373.85" y2="343.50" stroke="#000" stroke-width="2.4" stroke-linecap="round"/>
<rect x="369.40" y="374.80" width="5.70" height="32.60" fill="#939393" stroke="#000" stroke-width="2.0"/>
<rect x="385.40" y="404.50" width="5.70" height="2.90" fill="#ffffff" stroke="#000" stroke-width="2.0"/>
<line x1="396.85" y1="339.50" x2="396.85" y2="389.20" stroke="#000" stroke-width="2.0" />
<line x1="395.25" y1="339.50" x2="398.45" y2="339.50" stroke="#000" stroke-width="2.4" stroke-linecap="round"/>
<rect x="394.00" y="389.40" width="5.70" height="18.00" fill="#000000" stroke="#000" stroke-width="2.0"/>
<line x1="405.45" y1="356.90" x2="405.45" y2="380.80" stroke="#000" stroke-width="2.0" />
<line x1="403.85" y1="356.90" x2="407.05" y2="356.90" stroke="#000" stroke-width="2.4" stroke-linecap="round"/>
<rect x="402.60" y="381.00" width="5.70" height="26.40" fill="#c4c4c4" stroke="#000" stroke-width="2.0"/>
<line x1="414.05" y1="330.00" x2="414.05" y2="366.90" stroke="#000" stroke-width="2.0" />
<line x1="412.45" y1="330.00" x2="415.65" y2="330.00" stroke="#000" stroke-width="2.4" stroke-linecap="round"/>
<rect x="411.20" y="367.10" width="5.70" height="40.30" fill="#939393" stroke="#000" stroke-width="2.0"/>
<line x1="430.05" y1="396.80" x2="430.05" y2="402.00" stroke="#000" stroke-width="2.0" />
<line x1="428.45" y1="396.80" x2="431.65" y2="396.80" stroke="#000" stroke-width="2.4" stroke-linecap="round"/>
<rect x="427.20" y="402.20" width="5.70" height="5.20" fill="#ffffff" stroke="#000" stroke-width="2.0"/>
<line x1="438.65" y1="292.10" x2="438.65" y2="375.10" stroke="#000" stroke-width="2.0" />
<line x1="437.05" y1="292.10" x2="440.25" y2="292.10" stroke="#000" stroke-width="2.4" stroke-linecap="round"/>
<rect x="435.80" y="375.30" width="5.70" height="32.10" fill="#000000" stroke="#000" stroke-width="2.0"/>
<line x1="447.25" y1="355.40" x2="447.25" y2="376.60" stroke="#000" stroke-width="2.0" />
<line x1="445.65" y1="355.40" x2="448.85" y2="355.40" stroke="#000" stroke-width="2.4" stroke-linecap="round"/>
<rect x="444.40" y="376.80" width="5.70" height="30.60" fill="#c4c4c4" stroke="#000" stroke-width="2.0"/>
<line x1="455.85" y1="308.70" x2="455.85" y2="363.90" stroke="#000" stroke-width="2.0" />
<line x1="454.25" y1="308.70" x2="457.45" y2="308.70" stroke="#000" stroke-width="2.4" stroke-linecap="round"/>
<rect x="453.00" y="364.10" width="5.70" height="43.30" fill="#939393" stroke="#000" stroke-width="2.0"/>
<line x1="471.75" y1="400.60" x2="471.75" y2="402.70" stroke="#000" stroke-width="2.0" />
<line x1="470.15" y1="400.60" x2="473.35" y2="400.60" stroke="#000" stroke-width="2.4" stroke-linecap="round"/>
<rect x="468.90" y="402.90" width="5.70" height="4.50" fill="#ffffff" stroke="#000" stroke-width="2.0"/>
<line x1="480.35" y1="388.30" x2="480.35" y2="395.10" stroke="#000" stroke-width="2.0" />
<line x1="478.75" y1="388.30" x2="481.95" y2="388.30" stroke="#000" stroke-width="2.4" stroke-linecap="round"/>
<rect x="477.50" y="395.30" width="5.70" height="12.10" fill="#000000" stroke="#000" stroke-width="2.0"/>
<line x1="488.95" y1="364.50" x2="488.95" y2="382.50" stroke="#000" stroke-width="2.0" />
<line x1="487.35" y1="364.50" x2="490.55" y2="364.50" stroke="#000" stroke-width="2.4" stroke-linecap="round"/>
<rect x="486.10" y="382.70" width="5.70" height="24.70" fill="#c4c4c4" stroke="#000" stroke-width="2.0"/>
<line x1="497.55" y1="362.80" x2="497.55" y2="383.40" stroke="#000" stroke-width="2.0" />
<line x1="495.95" y1="362.80" x2="499.15" y2="362.80" stroke="#000" stroke-width="2.4" stroke-linecap="round"/>
<rect x="494.70" y="383.60" width="5.70" height="23.80" fill="#939393" stroke="#000" stroke-width="2.0"/>
<text x="271.76" y="446.90" font-size="16.35" font-weight="bold" stroke="#000" stroke-width="0.35" textLength="12.84" lengthAdjust="spacingAndGlyphs">D</text>
<line x1="296.40" y1="482.40" x2="296.40" y2="623.90" stroke="#000" stroke-width="1.6" />
<line x1="291.60" y1="623.10" x2="296.40" y2="623.10" stroke="#000" stroke-width="1.6" />
<text x="285.65" y="627.10" font-size="10.20" font-weight="bold" stroke="#000" stroke-width="0.35" textLength="5.67" lengthAdjust="spacingAndGlyphs">0</text>
<line x1="291.60" y1="576.20" x2="296.40" y2="576.20" stroke="#000" stroke-width="1.6" />
<text x="274.30" y="580.20" font-size="10.20" font-weight="bold" stroke="#000" stroke-width="0.35" textLength="17.02" lengthAdjust="spacingAndGlyphs">500</text>
<line x1="291.60" y1="529.30" x2="296.40" y2="529.30" stroke="#000" stroke-width="1.6" />
<text x="268.63" y="533.30" font-size="10.20" font-weight="bold" stroke="#000" stroke-width="0.35" textLength="22.69" lengthAdjust="spacingAndGlyphs">1000</text>
<line x1="291.60" y1="482.40" x2="296.40" y2="482.40" stroke="#000" stroke-width="1.6" />
<text x="268.63" y="486.40" font-size="10.20" font-weight="bold" stroke="#000" stroke-width="0.35" textLength="22.69" lengthAdjust="spacingAndGlyphs">1500</text>
<line x1="291.60" y1="623.10" x2="509.00" y2="623.10" stroke="#000" stroke-width="1.6" />
<line x1="322.80" y1="623.10" x2="322.80" y2="627.00" stroke="#000" stroke-width="1.6" />
<text x="319.73" y="638.10" font-size="10.40" font-weight="bold" stroke="#000" stroke-width="0.35" textLength="5.78" lengthAdjust="spacingAndGlyphs">1</text>
<line x1="375.60" y1="623.10" x2="375.60" y2="627.00" stroke="#000" stroke-width="1.6" />
<text x="372.78" y="638.10" font-size="10.40" font-weight="bold" stroke="#000" stroke-width="0.35" textLength="5.78" lengthAdjust="spacingAndGlyphs">3</text>
<line x1="428.40" y1="623.10" x2="428.40" y2="627.00" stroke="#000" stroke-width="1.6" />
<text x="425.51" y="638.10" font-size="10.40" font-weight="bold" stroke="#000" stroke-width="0.35" textLength="5.78" lengthAdjust="spacingAndGlyphs">6</text>
<line x1="481.30" y1="623.10" x2="481.30" y2="627.00" stroke="#000" stroke-width="1.6" />
<text x="478.42" y="638.10" font-size="10.40" font-weight="bold" stroke="#000" stroke-width="0.35" textLength="5.78" lengthAdjust="spacingAndGlyphs">9</text>
<text x="337.37" y="653.80" font-size="10.83" font-weight="bold" stroke="#000" stroke-width="0.35" textLength="128.82" lengthAdjust="spacingAndGlyphs">Months after transplant</text>
<text x="261.70" y="576.23" font-size="12.14" font-weight="bold" stroke="#000" stroke-width="0.35" textLength="46.81" lengthAdjust="spacingAndGlyphs" transform="rotate(-90 261.70 576.23)">CD20/ μl</text>
<circle cx="322.70" cy="592.00" r="2.95" fill="#000"/>
<circle cx="322.70" cy="617.70" r="2.95" fill="#000"/>
<circle cx="309.00" cy="621.50" r="2.95" fill="#000"/>
<circle cx="313.00" cy="622.00" r="2.95" fill="#000"/>
<circle cx="317.00" cy="621.00" r="2.95" fill="#000"/>
<circle cx="321.00" cy="622.50" r="2.95" fill="#000"/>
<circle cx="325.00" cy="621.50" r="2.95" fill="#000"/>
<circle cx="329.00" cy="622.00" r="2.95" fill="#000"/>
<circle cx="333.00" cy="621.50" r="2.95" fill="#000"/>
<circle cx="336.50" cy="622.00" r="2.95" fill="#000"/>
<circle cx="311.00" cy="623.00" r="2.95" fill="#000"/>
<circle cx="331.00" cy="623.00" r="2.95" fill="#000"/>
<circle cx="375.80" cy="579.60" r="2.95" fill="#000"/>
<circle cx="367.30" cy="587.60" r="2.95" fill="#000"/>
<circle cx="375.80" cy="592.20" r="2.95" fill="#000"/>
<circle cx="367.30" cy="599.50" r="2.95" fill="#000"/>
<circle cx="375.80" cy="605.30" r="2.95" fill="#000"/>
<circle cx="384.00" cy="605.30" r="2.95" fill="#000"/>
<circle cx="367.30" cy="610.80" r="2.95" fill="#000"/>
<circle cx="375.80" cy="614.50" r="2.95" fill="#000"/>
<circle cx="373.50" cy="617.20" r="2.95" fill="#000"/>
<circle cx="362.50" cy="621.30" r="2.95" fill="#000"/>
<circle cx="366.00" cy="622.50" r="2.95" fill="#000"/>
<circle cx="370.00" cy="621.80" r="2.95" fill="#000"/>
<circle cx="374.00" cy="622.80" r="2.95" fill="#000"/>
<circle cx="378.00" cy="621.50" r="2.95" fill="#000"/>
<circle cx="381.50" cy="622.30" r="2.95" fill="#000"/>
<circle cx="385.50" cy="621.80" r="2.95" fill="#000"/>
<circle cx="389.00" cy="621.50" r="2.95" fill="#000"/>
<circle cx="428.40" cy="512.30" r="2.95" fill="#000"/>
<circle cx="428.40" cy="554.00" r="2.95" fill="#000"/>
<circle cx="428.40" cy="571.80" r="2.95" fill="#000"/>
<circle cx="420.00" cy="580.00" r="2.95" fill="#000"/>
<circle cx="428.40" cy="588.20" r="2.95" fill="#000"/>
<circle cx="436.70" cy="587.30" r="2.95" fill="#000"/>
<circle cx="420.00" cy="607.30" r="2.95" fill="#000"/>
<circle cx="420.00" cy="612.20" r="2.95" fill="#000"/>
<circle cx="428.40" cy="609.10" r="2.95" fill="#000"/>
<circle cx="436.70" cy="614.50" r="2.95" fill="#000"/>
<circle cx="428.40" cy="618.50" r="2.95" fill="#000"/>
<circle cx="472.50" cy="541.70" r="2.95" fill="#000"/>
<circle cx="481.20" cy="547.90" r="2.95" fill="#000"/>
<circle cx="489.60" cy="555.40" r="2.95" fill="#000"/>
<circle cx="481.20" cy="558.90" r="2.95" fill="#000"/>
<circle cx="481.20" cy="569.30" r="2.95" fill="#000"/>
<circle cx="481.20" cy="589.00" r="2.95" fill="#000"/>
<circle cx="472.50" cy="600.60" r="2.95" fill="#000"/>
<circle cx="481.20" cy="601.90" r="2.95" fill="#000"/>
<circle cx="489.60" cy="598.90" r="2.95" fill="#000"/>
<circle cx="489.60" cy="615.60" r="2.95" fill="#000"/>
<circle cx="481.20" cy="622.80" r="2.95" fill="#000"/>
<line x1="305.00" y1="621.50" x2="340.80" y2="621.50" stroke="#000" stroke-width="2" />
<line x1="357.50" y1="610.80" x2="393.60" y2="610.80" stroke="#000" stroke-width="2" />
<line x1="410.40" y1="586.90" x2="446.70" y2="586.90" stroke="#000" stroke-width="2" />
<line x1="463.00" y1="582.20" x2="499.30" y2="582.20" stroke="#000" stroke-width="2" />
</svg>
</body></html>
